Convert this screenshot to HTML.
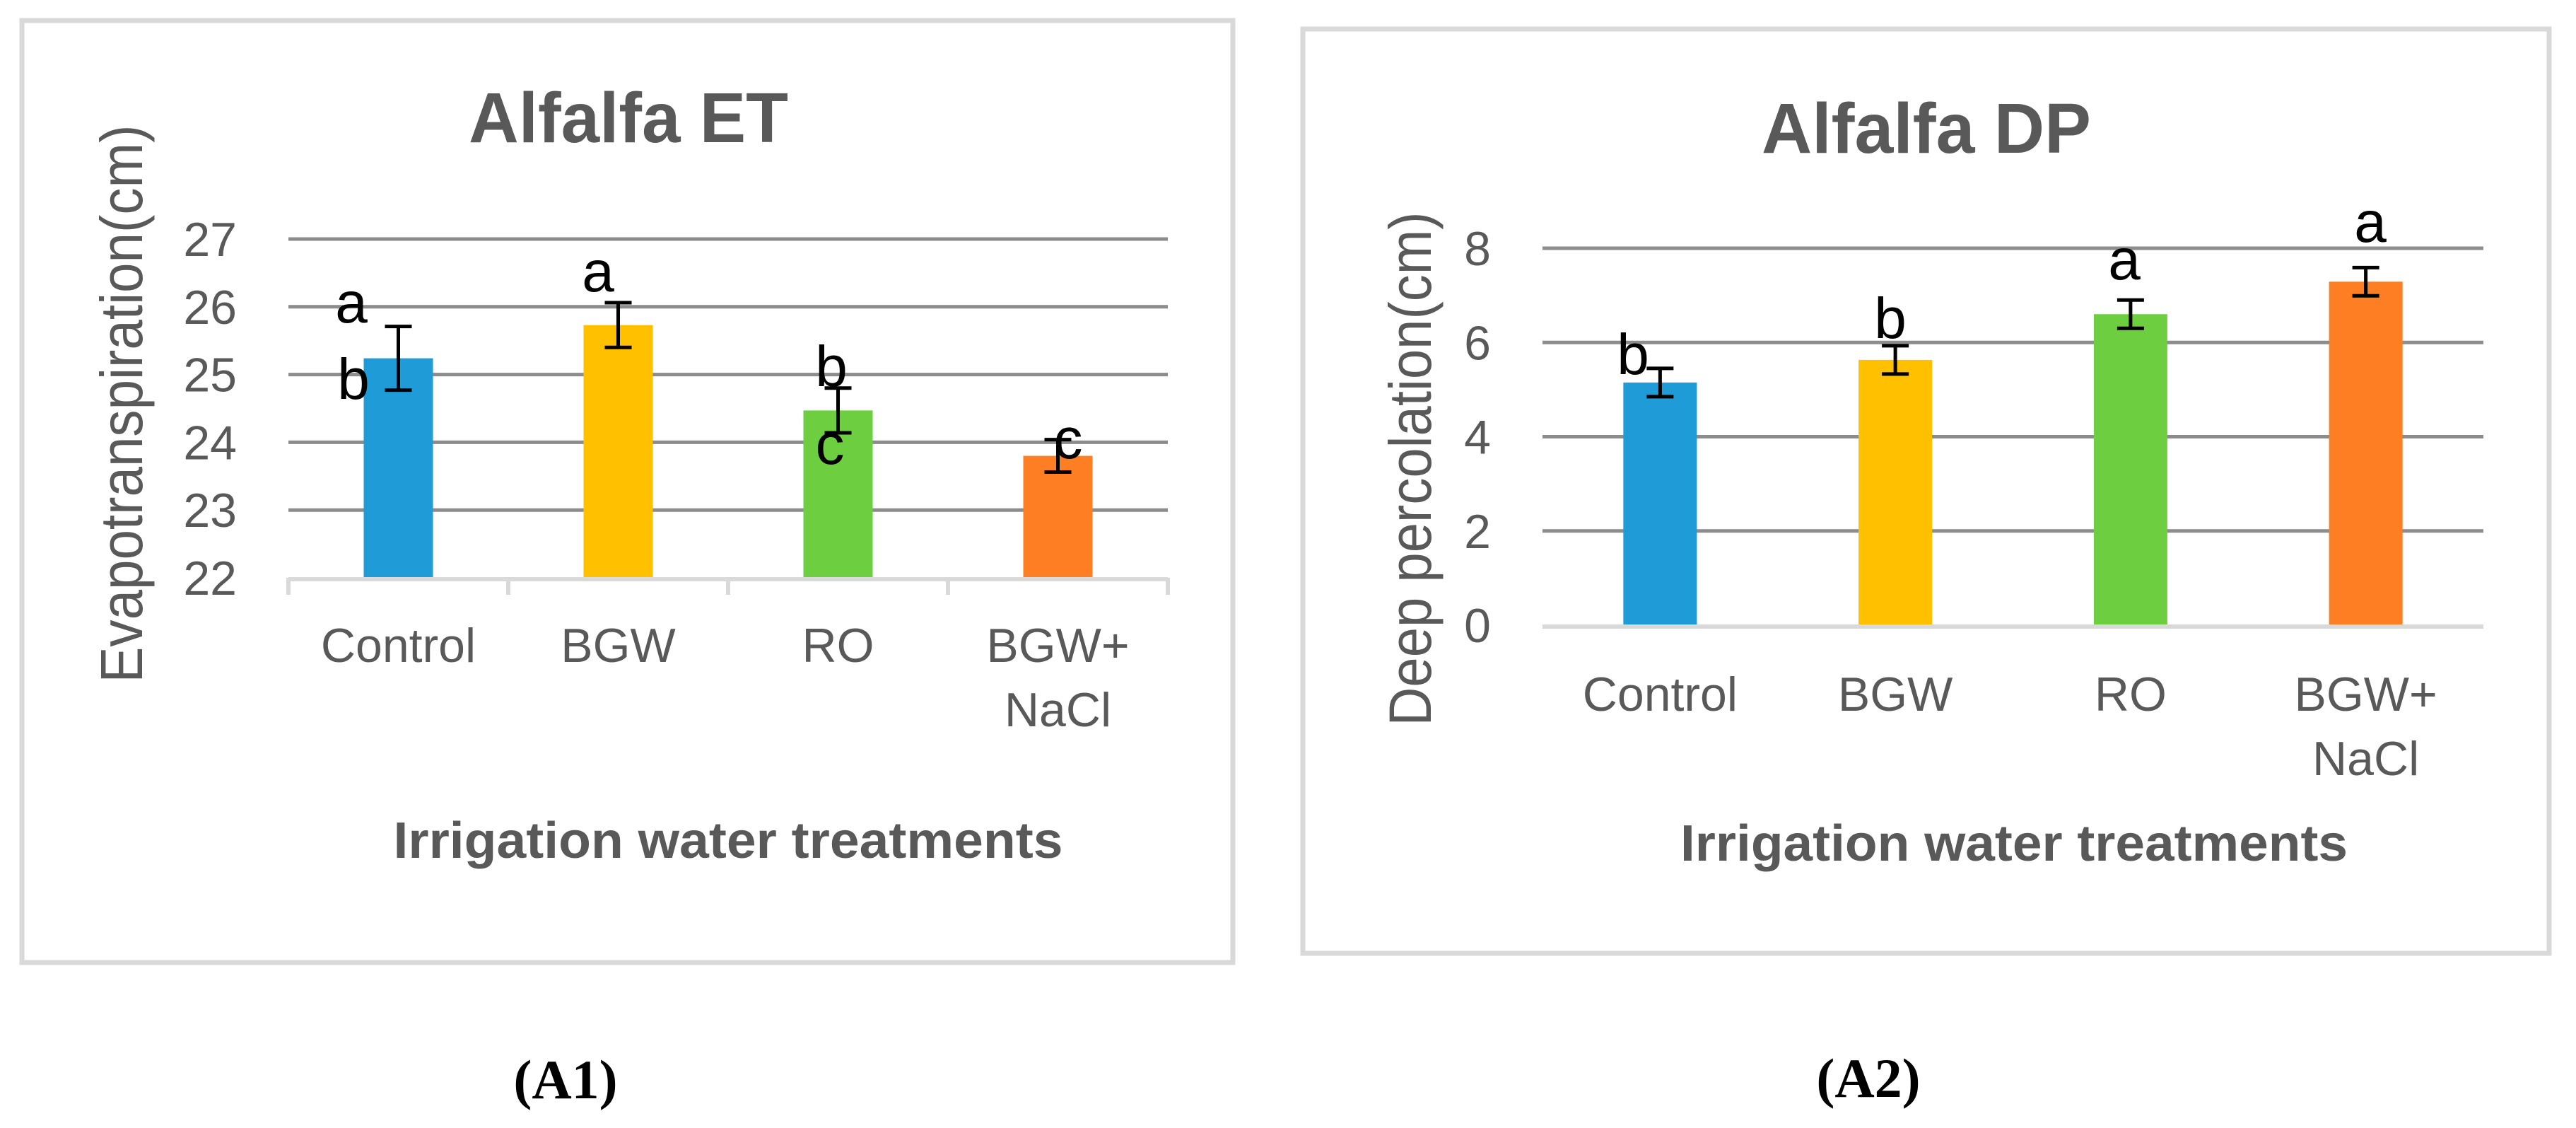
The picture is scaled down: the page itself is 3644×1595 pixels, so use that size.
<!DOCTYPE html>
<html><head><meta charset="utf-8"><style>
html,body{margin:0;padding:0;background:#fff;}
svg{display:block;}
text{font-family:"Liberation Sans",sans-serif;}
text.cap{font-family:"Liberation Serif",serif;}
</style></head><body>
<svg id="fig" width="3644" height="1595" viewBox="0 0 3644 1595" xmlns="http://www.w3.org/2000/svg">
<g id="c1"></g>
<g id="c2"></g>
</svg>
<script>
const categories = ["Control","BGW","RO","BGW+|NaCl"];
const colors = ["#1f9bd7","#ffc000","#6dcf40","#fd7e23"];
const etValues = [25.24, 25.73, 24.47, 23.80];
const etErrors = [0.47, 0.33, 0.33, 0.24];
const etTicks = [22,23,24,25,26,27];
const etLetters = [["a","b"],["a"],["b","c"],["c"]];
const dpValues = [5.15, 5.63, 6.60, 7.29];
const dpErrors = [0.30, 0.30, 0.30, 0.30];
const dpTicks = [0,2,4,6,8];
const dpLetters = [["b"],["b"],["a"],["a"]];

const NS="http://www.w3.org/2000/svg";
function mk(parent,tag,attrs,txt){const e=document.createElementNS(NS,tag);for(const k in attrs)e.setAttribute(k,attrs[k]);if(txt!==undefined)e.textContent=txt;parent.appendChild(e);return e;}

function drawChart(g,cfg){
  const {frame,plot,ymin,ymax,ticks,values,errors,letters,letterPos,title,ytitle,caption}=cfg;
  const yS=v=>plot.y1-(v-ymin)/(ymax-ymin)*(plot.y1-plot.y0);
  const band=(plot.x1-plot.x0)/categories.length;
  const xC=i=>plot.x0+band*(i+0.5);
  const fr=mk(g,'rect',{x:frame.x,y:frame.y,width:frame.w,height:frame.h,fill:'#fff',stroke:'#d9d9d9','stroke-width':7});
  
  
  ticks.forEach(t=>{
    if(t!==ymin){
      const l=mk(g,'line',{x1:plot.x0,x2:plot.x1,y1:yS(t),y2:yS(t),stroke:'#8c8c8c','stroke-width':5});
      
      
    }
    const tl=mk(g,'text',{x:plot.x0-73,y:yS(t)+24,'text-anchor':'end','font-size':68,fill:'#595959'},String(t));
    
    
  });
  values.forEach((v,i)=>{
    const bw=cfg.barW;
    const b=mk(g,'rect',{x:xC(i)-bw/2,y:yS(v),width:bw,height:yS(ymin)-yS(v),fill:colors[i]});
    
    
    const eg=mk(g,'path',{d:`M${xC(i)} ${yS(v+errors[i])}V${yS(v-errors[i])}M${xC(i)-19} ${yS(v+errors[i])}h38M${xC(i)-19} ${yS(v-errors[i])}h38`,stroke:'#000','stroke-width':5,fill:'none'});
    
    
    letters[i].forEach((L,j)=>{
      const p=letterPos[i][j];
      const t=mk(g,'text',{x:p[0],y:p[1],'text-anchor':'middle','font-size':82,fill:'#000'},L);
      
      
    });
    const parts=categories[i].split('|');
    parts.forEach((s,j)=>{
      const t=mk(g,'text',{x:xC(i),y:cfg.xlabY+j*91,'text-anchor':'middle','font-size':68,fill:'#595959'},s);
      
      
    });
  });
  const ax=mk(g,'line',{x1:plot.x0,x2:plot.x1,y1:plot.y1+2,y2:plot.y1+2,stroke:'#d9d9d9','stroke-width':6});
  
  
  if(cfg.ticksMarks){
    for(let i=0;i<=categories.length;i++){
      const tk=mk(g,'line',{x1:plot.x0+band*i,x2:plot.x0+band*i,y1:plot.y1,y2:plot.y1+24,stroke:'#d9d9d9','stroke-width':6});
      
      
    }
  }
  const tt=mk(g,'text',{x:title.x,y:title.y,'text-anchor':'middle','font-size':100,'font-weight':'bold',fill:'#595959',textLength:title.w,lengthAdjust:'spacingAndGlyphs'},title.t);
  
  
  const yt=mk(g,'text',{x:0,y:0,'text-anchor':'middle','font-size':84,fill:'#595959',textLength:ytitle.len,lengthAdjust:'spacingAndGlyphs',transform:`translate(${ytitle.x},${ytitle.cy}) rotate(-90)`},ytitle.t);
  
  
  const xt=mk(g,'text',{x:cfg.xtitle.x,y:cfg.xtitle.y,'text-anchor':'middle','font-size':72,'font-weight':'bold',fill:'#595959',textLength:cfg.xtitle.w,lengthAdjust:'spacingAndGlyphs'},'Irrigation water treatments');
  
  
  const cp=mk(g,'text',{x:caption.x,y:caption.y,'text-anchor':'middle','font-size':78,'font-weight':'bold',fill:'#000','class':'cap'},caption.t);
  
  
}

drawChart(document.getElementById('c1'),{
  frame:{x:31,y:29,w:1713,h:1332},
  plot:{x0:408,x1:1652,y0:338,y1:817},
  ymin:22,ymax:27,ticks:etTicks,values:etValues,errors:etErrors,letters:etLetters,barW:98,
  letterPos:[[[497,456],[500,564]],[[846,412]],[[1176,546],[1174,656]],[[1511,648]]],
  title:{t:'Alfalfa ET',x:889,y:201,w:452},
  ytitle:{t:'Evapotranspiration(cm)',x:201,cy:571,len:789},
  xlabY:936,ticksMarks:true,
  xtitle:{x:1030,y:1213,w:947},
  caption:{t:'(A1)',x:800,y:1553}
});
drawChart(document.getElementById('c2'),{
  frame:{x:1843,y:41,w:1763,h:1307},
  plot:{x0:2182,x1:3513,y0:351,y1:884},
  ymin:0,ymax:8,ticks:dpTicks,values:dpValues,errors:dpErrors,letters:dpLetters,barW:104,
  letterPos:[[[2310,529]],[[2674,478]],[[3005,395]],[[3353,342]]],
  title:{t:'Alfalfa DP',x:2725,y:216,w:466},
  ytitle:{t:'Deep percolation(cm)',x:2024,cy:663,len:727},
  xlabY:1005,ticksMarks:false,
  xtitle:{x:2849,y:1217,w:944},
  caption:{t:'(A2)',x:2643,y:1551}
});
</script>
</body></html>
